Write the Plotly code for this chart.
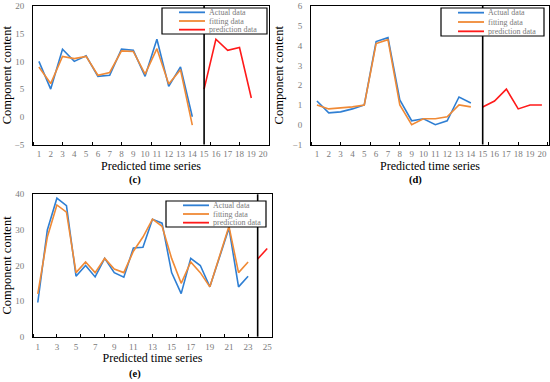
import plotly.graph_objects as go

W, H = 550, 382

# ---------------- data ----------------
c_time = list(range(1, 15))
c_actual = [10, 5, 12.2, 10, 11, 7.3, 7.5, 12.2, 12, 7.3, 14, 5.5, 9, 0]
c_fitting = [9, 6, 10.9, 10.5, 10.9, 7.5, 8, 11.9, 11.8, 7.7, 12.3, 5.9, 8.5, -1.5]
c_pred_time = [15, 16, 17, 18, 19]
c_pred = [5, 14, 12, 12.5, 3.4]
c_split = 15
c_ticks = list(range(1, 21))
c_yticks = [-5, 0, 5, 10, 15, 20]

d_time = list(range(1, 15))
d_actual = [1.2, 0.6, 0.65, 0.8, 1.0, 4.2, 4.4, 1.25, 0.2, 0.3, 0, 0.2, 1.4, 1.1]
d_fitting = [1.0, 0.8, 0.85, 0.9, 1.0, 4.1, 4.3, 1.0, 0, 0.3, 0.3, 0.4, 1.0, 0.9]
d_pred_time = [15, 16, 17, 18, 19, 20]
d_pred = [0.9, 1.2, 1.8, 0.8, 1.0, 1.0]
d_split = 15
d_ticks = list(range(1, 21))
d_yticks = [-1, 0, 1, 2, 3, 4, 5, 6]

e_time = list(range(1, 24))
e_actual = [9.6, 30, 38.9, 36.8, 17, 20, 16.8, 22, 18, 16.7, 24.9, 25.1, 33, 31.9,
            18, 12.1, 22, 20, 14, 22.3, 30.5, 14, 17]
e_fitting = [12, 28, 37, 35, 18, 21, 18, 22, 19, 18, 24, 28, 33, 31,
             22, 15, 21, 18, 14, 22.5, 31, 18, 21]
e_pred_time = [24, 25]
e_pred = [21.8, 24.8]
e_split = 24
e_ticks = list(range(1, 26, 2))
e_yticks = [0, 10, 20, 30, 40]

series_names = ["Actual data", "fitting data", "prediction data"]
series_colors = ["#2F7FD3", "#F08A36", "#FF1A1A"]
x_title = "Predicted time series"
y_title = "Component content"

FONT = "Liberation Serif"
GRAY = "#7a7a7a"


def px(x):
    return x / W


def py(y):
    return 1 - y / H


fig = go.Figure()

panels = [
    dict(ax="", time=c_time, act=c_actual, fit=c_fitting, pt=c_pred_time, pv=c_pred,
         split=c_split, ticks=c_ticks, yticks=c_yticks, xr=[0.5, 20.5], yr=[-5, 20],
         dom_x=[33, 269], dom_y=[6, 144.5], leg=[162, 267, 8, 34],
         cap="(c)", cap_xy=(135, 180)),
    dict(ax="2", time=d_time, act=d_actual, fit=d_fitting, pt=d_pred_time, pv=d_pred,
         split=d_split, ticks=d_ticks, yticks=d_yticks, xr=[0.5, 20.6], yr=[-1, 6],
         dom_x=[311, 549], dom_y=[6, 144.5], leg=[441, 544, 8, 36],
         cap="(d)", cap_xy=(415, 180)),
    dict(ax="3", time=e_time, act=e_actual, fit=e_fitting, pt=e_pred_time, pv=e_pred,
         split=e_split, ticks=e_ticks, yticks=e_yticks, xr=[0.5, 25.5], yr=[0, 40],
         dom_x=[33, 272], dom_y=[194.3, 336.7], leg=[166, 266, 201, 227],
         cap="(e)", cap_xy=(135, 374)),
]

shapes = []
annotations = []

for p in panels:
    xa = "x" + p["ax"]
    ya = "y" + p["ax"]
    for xs, ys, name, col in [
        (p["time"], p["act"], series_names[0], series_colors[0]),
        (p["time"], p["fit"], series_names[1], series_colors[1]),
        (p["pt"], p["pv"], series_names[2], series_colors[2]),
    ]:
        fig.add_trace(go.Scatter(x=xs, y=ys, mode="lines", name=name,
                                 line=dict(color=col, width=1.6),
                                 xaxis=xa, yaxis=ya, showlegend=False))

    axis_common = dict(showline=True, linecolor="black", linewidth=1, mirror=True,
                       showgrid=False, zeroline=False, automargin=False,
                       tickfont=dict(family=FONT, size=9, color=GRAY))
    fig.update_layout(**{
        "xaxis" + p["ax"]: dict(
            axis_common, domain=[px(p["dom_x"][0]), px(p["dom_x"][1])],
            range=p["xr"], anchor=ya, tickmode="array", tickvals=p["ticks"],
            ticks="", ticklabelstandoff=1,
            minor=dict(tickmode="linear", tick0=0.5, dtick=2.5, ticks="inside",
                       ticklen=3, tickcolor="black", tickwidth=1),
            title=dict(text=x_title, standoff=0,
                       font=dict(family=FONT, size=12, color="black"))),
        "yaxis" + p["ax"]: dict(
            axis_common, domain=[py(p["dom_y"][1]), py(p["dom_y"][0])],
            range=p["yr"], anchor=xa, tickmode="array", tickvals=p["yticks"],
            ticks="", ticklabelstandoff=6,
            title=dict(text=y_title, standoff=6,
                       font=dict(family=FONT, size=12.5, color="black"))),
    })

    # vertical divider between fitted and predicted
    shapes.append(dict(type="line", xref=xa, yref=ya + " domain",
                       x0=p["split"], x1=p["split"], y0=0, y1=1,
                       line=dict(color="black", width=1.6)))

    # legend box
    lx0, lx1, ly0, ly1 = p["leg"]
    shapes.append(dict(type="rect", xref="paper", yref="paper",
                       x0=px(lx0), x1=px(lx1), y0=py(ly1), y1=py(ly0),
                       fillcolor="white", line=dict(color="black", width=1.2), layer="above"))
    rowh = (ly1 - ly0) / 3
    for i, (nm, col) in enumerate(zip(series_names, series_colors)):
        yy = ly0 + rowh * (i + 0.5)
        shapes.append(dict(type="line", xref="paper", yref="paper",
                           x0=px(lx0 + 17), x1=px(lx0 + 43), y0=py(yy), y1=py(yy),
                           line=dict(color=col, width=1.8), layer="above"))
        annotations.append(dict(text=nm, xref="paper", yref="paper",
                                x=px(lx0 + 45), y=py(yy), xanchor="left", yanchor="middle",
                                showarrow=False,
                                font=dict(family=FONT, size=8, color=GRAY)))

    annotations.append(dict(text="<b>" + p["cap"] + "</b>", xref="paper", yref="paper",
                            x=px(p["cap_xy"][0]), y=py(p["cap_xy"][1]),
                            xanchor="center", yanchor="middle", showarrow=False,
                            font=dict(family=FONT, size=10.5, color="black")))

fig.update_layout(width=W, height=H, margin=dict(l=0, r=0, t=0, b=0, autoexpand=False),
                  paper_bgcolor="white", plot_bgcolor="white",
                  shapes=shapes, annotations=annotations, showlegend=False)

fig.write_html("out.html", config={"displayModeBar": False},
               post_script="document.body.style.margin='0';document.body.style.overflow='hidden';")
